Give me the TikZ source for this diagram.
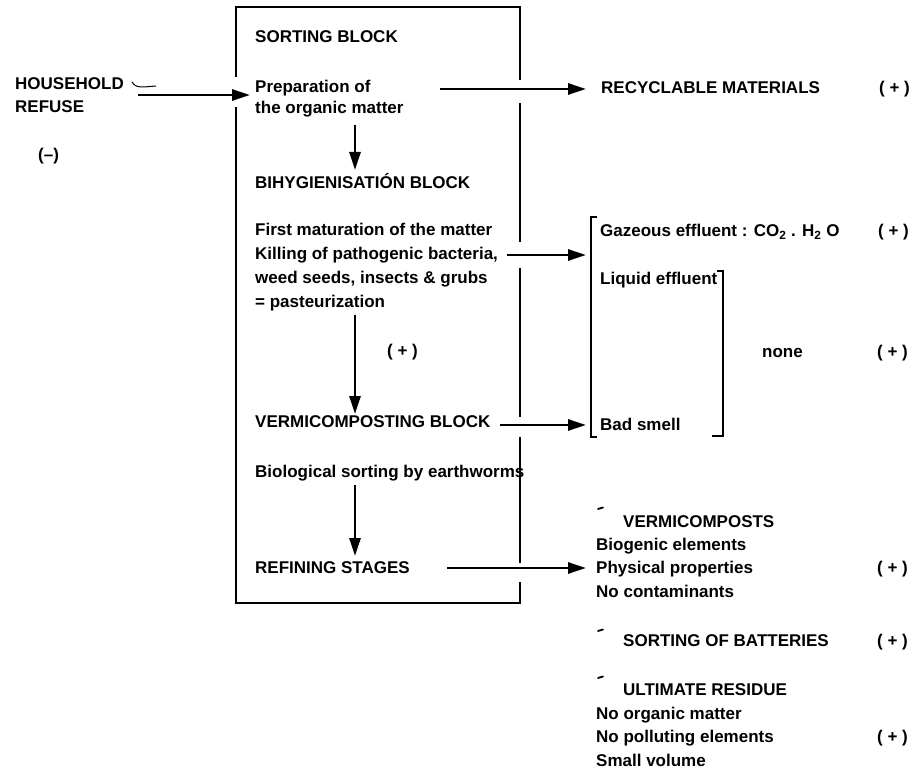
\documentclass[tikz,border=0pt]{standalone}
\usepackage{fontspec}
\setmainfont{Liberation Sans}
\usetikzlibrary{arrows.meta}
\tikzset{
  lbl/.style={inner sep=0pt, anchor=base west, font=\bfseries\fontsize{17}{24}\selectfont},
  flow/.style={line width=2.8pt, -{Triangle[length=18pt,width=11pt]}},
  frame/.style={line width=2pt},
  brk/.style={line width=1.8pt},
  tick/.style={line width=1.8pt, line cap=round},
}
\begin{document}
\begin{tikzpicture}[x=1pt,y=-1pt]
\useasboundingbox (0,0) rectangle (922,770);
% left inputs
\node[lbl] (hh) at (15,90) {HOUSEHOLD};
\node[lbl] (ref) at (15,113) {REFUSE};
\node[lbl] (minus) at (38,161) {(--)};
\draw[line width=1pt] (132,82) .. controls (135,87) and (139,87) .. (144,87) -- (156,86);
% main frame with gaps
\coordinate (tl) at (236,7);
\coordinate (tr) at (520,7);
\coordinate (bl) at (236,603);
\coordinate (br) at (520,603);
\draw[frame] (236,77) -- (tl) -- (tr) -- (520,80);
\draw[frame] (520,103) -- (520,242);
\draw[frame] (520,268) -- (520,417);
\draw[frame] (520,437) -- (520,563);
\draw[frame] (520,582) -- (br) -- (bl) -- (236,107);
% texts in block
\node[lbl] (sb) at (255,43) {SORTING BLOCK};
\node[lbl] (prep1) at (255,93) {Preparation of};
\node[lbl] (prep2) at (255,114) {the organic matter};
\node[lbl] (bih) at (255,189) {BIHYGIENISATIÓN BLOCK};
\node[lbl] (fm1) at (255,236) {First maturation of the matter};
\node[lbl] (fm2) at (255,260) {Killing of pathogenic bacteria,};
\node[lbl] (fm3) at (255,284) {weed seeds, insects \& grubs};
\node[lbl] (fm4) at (255,308) {= pasteurization};
\node[lbl] (plusmid) at (387,356) {( + )};
\node[lbl] (vb) at (255,428) {VERMICOMPOSTING BLOCK};
\node[lbl] (bio) at (255,477) {Biological sorting by earthworms};
\node[lbl] (rs) at (255,573) {REFINING STAGES};
% right texts
\node[lbl] (rm) at (601,94) {RECYCLABLE MATERIALS};
\node[lbl] (p1) at (879,94) {( + )};
\node[lbl] (gas) at (600,237) {Gazeous effluent : CO\textsubscript{2} . H\textsubscript{2} O};
\node[lbl] (p2) at (878,237) {( + )};
\node[lbl] (liq) at (600,285) {Liquid effluent};
\node[lbl] (none) at (762,358) {none};
\node[lbl] (p3) at (877,358) {( + )};
\node[lbl] (bad) at (600,430) {Bad smell};
\node[lbl] (vc) at (623,527) {VERMICOMPOSTS};
\node[lbl] (be) at (596,550) {Biogenic elements};
\node[lbl] (pp) at (596,573) {Physical properties};
\node[lbl] (p4) at (877,573) {( + )};
\node[lbl] (nc) at (596,597) {No contaminants};
\node[lbl] (sob) at (623,646) {SORTING OF BATTERIES};
\node[lbl] (p5) at (877,646) {( + )};
\node[lbl] (ur) at (623,695) {ULTIMATE RESIDUE};
\node[lbl] (nom) at (596,719) {No organic matter};
\node[lbl] (npe) at (596,742) {No polluting elements};
\node[lbl] (p6) at (877,742) {( + )};
\node[lbl] (sv) at (596,766) {Small volume};
% ticks
\draw[tick] (598,509) -- (603,507.5);
\draw[tick] (598,631) -- (603,629.5);
\draw[tick] (598,678) -- (603,676.5);
% brackets
\draw[brk] (597,217) -- (591,217) -- (591,437) -- (597,437);
\draw[brk] (717,271) -- (723,271) -- (723,436) -- (712,436);
% arrows
\coordinate (a1s) at (138,95); \coordinate (a1e) at (250,95);
\draw[flow] (a1s) -- (a1e);
\coordinate (a2s) at (440,89); \coordinate (a2e) at (586,89);
\draw[flow] (a2s) -- (a2e);
\coordinate (a3s) at (355,125); \coordinate (a3e) at (355,170);
\draw[flow] (a3s) -- (a3e);
\coordinate (a4s) at (507,255); \coordinate (a4e) at (586,255);
\draw[flow] (a4s) -- (a4e);
\coordinate (a5s) at (355,315); \coordinate (a5e) at (355,414);
\draw[flow] (a5s) -- (a5e);
\coordinate (a6s) at (500,425); \coordinate (a6e) at (586,425);
\draw[flow] (a6s) -- (a6e);
\coordinate (a7s) at (355,485); \coordinate (a7e) at (355,556);
\draw[flow] (a7s) -- (a7e);
\coordinate (a8s) at (447,568); \coordinate (a8e) at (586,568);
\draw[flow] (a8s) -- (a8e);
\end{tikzpicture}
\end{document}
